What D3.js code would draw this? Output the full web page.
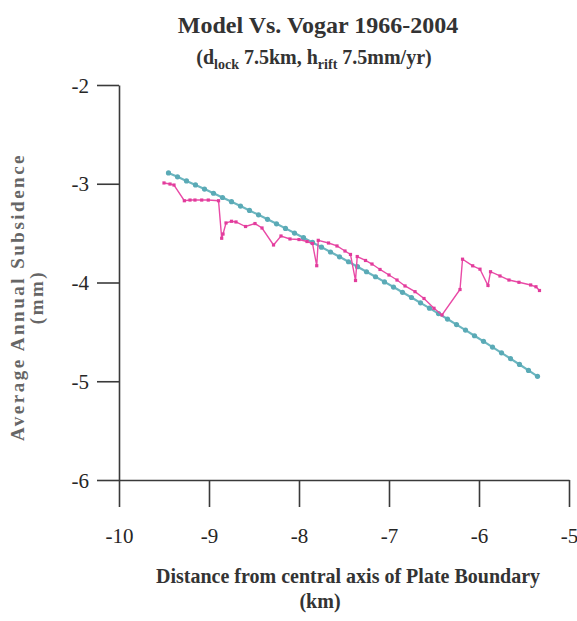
<!DOCTYPE html>
<html>
<head>
<meta charset="utf-8">
<script src="https://cdn.jsdelivr.net/npm/d3@7"></script>
<style>
  body { margin: 0; background: #fff; }
  svg text { font-family: "Liberation Serif", "Times New Roman", serif; }
</style>
</head>
<body>
<div id="figure"><svg width="577" height="621"></svg></div>
<script>
// model curve (teal) - distance (km) and subsidence (mm/yr)
var modelX = [-9.45, -9.35, -9.25, -9.15, -9.05, -8.95, -8.85, -8.75, -8.65, -8.55,
              -8.45, -8.35, -8.25, -8.15, -8.05, -7.95, -7.85, -7.75, -7.65, -7.55,
              -7.45, -7.35, -7.25, -7.15, -7.05, -6.95, -6.85, -6.75, -6.65, -6.55,
              -6.45, -6.35, -6.25, -6.15, -6.05, -5.95, -5.85, -5.75, -5.65, -5.55,
              -5.45, -5.35];
var modelY = [-2.890, -2.930, -2.971, -3.012, -3.054, -3.096, -3.139, -3.182, -3.226, -3.270,
              -3.315, -3.360, -3.406, -3.452, -3.499, -3.546, -3.594, -3.642, -3.691, -3.740,
              -3.790, -3.840, -3.891, -3.942, -3.994, -4.046, -4.099, -4.152, -4.206, -4.260,
              -4.315, -4.370, -4.426, -4.482, -4.539, -4.596, -4.654, -4.712, -4.771, -4.830,
              -4.890, -4.950];

// Vogar levelling 1966-2004 (pink)
var vogarX = [-9.500, -9.433, -9.389, -9.274, -9.211, -9.156, -9.081, -9.008, -8.894, -8.859,
              -8.844, -8.811, -8.750, -8.700, -8.594, -8.489, -8.411, -8.283, -8.200, -8.100,
              -8.000, -7.911, -7.850, -7.803, -7.786, -7.672, -7.578, -7.489, -7.428, -7.372,
              -7.353, -7.261, -7.189, -7.100, -7.000, -6.911, -6.822, -6.711, -6.611, -6.500,
              -6.411, -6.211, -6.183, -6.070, -5.989, -5.900, -5.872, -5.767, -5.667, -5.556,
              -5.426, -5.367, -5.328];
var vogarY = [-2.992, -3.003, -3.013, -3.172, -3.165, -3.165, -3.165, -3.165, -3.172, -3.552,
              -3.509, -3.397, -3.380, -3.387, -3.433, -3.403, -3.448, -3.620, -3.529, -3.559,
              -3.565, -3.585, -3.605, -3.830, -3.573, -3.600, -3.630, -3.681, -3.716, -3.980,
              -3.737, -3.777, -3.813, -3.868, -3.924, -3.975, -4.035, -4.093, -4.162, -4.261,
              -4.329, -4.071, -3.764, -3.831, -3.865, -4.030, -3.891, -3.934, -3.975, -3.998,
              -4.025, -4.043, -4.081];

var xMajor = [-10, -9, -8, -7, -6, -5];
var xMinor = [-9.5, -8.5, -7.5, -6.5, -5.5];
var yMajor = [-6, -5, -4, -3, -2];
var yMinor = [-5.5, -4.5, -3.5, -2.5];

var axisColor = "#3a3a3a";
var textColor = "#333";
var serif = "'Liberation Serif', 'Times New Roman', serif";
var figure = d3.select("div#figure svg");

var x = d3.scaleLinear().domain([-10, -5]).range([119, 569]);
var y = d3.scaleLinear().domain([-6, -2]).range([480, 85]);

// plain hyphen for negative numbers, like the original
function plainLabel(d) { return "-" + Math.abs(d); }

// titles
figure.append("text")
    .attr("x", 318).attr("y", 33)
    .attr("text-anchor", "middle")
    .attr("font-size", 24).attr("font-weight", "bold")
    .attr("fill", textColor)
    .text("Model Vs. Vogar 1966-2004");

var sub = figure.append("text")
    .attr("x", 314).attr("y", 64)
    .attr("text-anchor", "middle")
    .attr("font-size", 20).attr("font-weight", "bold")
    .attr("fill", textColor);
sub.append("tspan").text("(d");
sub.append("tspan").attr("font-size", 14).attr("dy", 5).text("lock");
sub.append("tspan").attr("dy", -5).text(" 7.5km, h");
sub.append("tspan").attr("font-size", 14).attr("dy", 5).text("rift");
sub.append("tspan").attr("dy", -5).text(" 7.5mm/yr)");

// axes
var gx = figure.append("g").attr("transform", "translate(0,480)");
gx.call(d3.axisBottom(x).tickValues(xMinor).tickSize(14).tickSizeOuter(0).tickFormat(""));
gx.call(d3.axisBottom(x).tickValues(xMajor).tickSize(27).tickSizeOuter(0).tickFormat(plainLabel));

var gy = figure.append("g").attr("transform", "translate(119,0)");
gy.call(d3.axisLeft(y).tickValues(yMinor).tickSize(11).tickSizeOuter(0).tickFormat(""));
gy.call(d3.axisLeft(y).tickValues(yMajor).tickSize(22).tickSizeOuter(0).tickFormat(plainLabel));

figure.selectAll(".domain, .tick line")
    .attr("stroke", axisColor)
    .attr("stroke-width", 1.6);

gx.attr("font-family", null);
gy.attr("font-family", null);
gx.selectAll(".tick text")
    .attr("y", 63).attr("dy", 0)
    .attr("fill", "#262626")
    .style("font-family", serif)
    .style("font-size", "21px");
gy.selectAll(".tick text")
    .attr("x", -30).attr("dy", "0.34em")
    .attr("fill", "#262626")
    .style("font-family", serif)
    .style("font-size", "21px");

// axis titles
figure.append("text")
    .attr("x", 348).attr("y", 583)
    .attr("text-anchor", "middle")
    .attr("font-size", 20).attr("font-weight", "bold")
    .attr("fill", textColor)
    .text("Distance from central axis of Plate Boundary");
figure.append("text")
    .attr("x", 320).attr("y", 608)
    .attr("text-anchor", "middle")
    .attr("font-size", 20).attr("font-weight", "bold")
    .attr("fill", textColor)
    .text("(km)");

var yTitle = figure.append("g").attr("transform", "translate(24,297) rotate(-90)");
yTitle.append("text")
    .attr("text-anchor", "middle")
    .attr("font-size", 19).attr("font-weight", "bold")
    .attr("letter-spacing", 2.5)
    .attr("fill", "#666")
    .text("Average Annual Subsidence");
yTitle.append("text")
    .attr("y", 19)
    .attr("text-anchor", "middle")
    .attr("font-size", 19).attr("font-weight", "bold")
    .attr("letter-spacing", 2.5)
    .attr("fill", "#666")
    .text("(mm)");

// series
var modelPts = modelX.map(function(d, i) { return [d, modelY[i]]; });
var vogarPts = vogarX.map(function(d, i) { return [d, vogarY[i]]; });
var line = d3.line()
    .x(function(d) { return x(d[0]); })
    .y(function(d) { return y(d[1]); });

figure.append("path")
    .attr("d", line(modelPts))
    .attr("fill", "none")
    .attr("stroke", "#6cb6c0")
    .attr("stroke-width", 2.2);
figure.append("g").selectAll("circle")
    .data(modelPts).enter().append("circle")
    .attr("cx", function(d) { return x(d[0]); })
    .attr("cy", function(d) { return y(d[1]); })
    .attr("r", 2.6)
    .attr("fill", "#5aaab6");

figure.append("path")
    .attr("d", line(vogarPts))
    .attr("fill", "none")
    .attr("stroke", "#e94aa6")
    .attr("stroke-width", 1.4);
figure.append("g").selectAll("rect")
    .data(vogarPts).enter().append("rect")
    .attr("x", function(d) { return x(d[0]) - 1.6; })
    .attr("y", function(d) { return y(d[1]) - 1.6; })
    .attr("width", 3.2).attr("height", 3.2)
    .attr("fill", "#e23c9c");
</script>
</body>
</html>
